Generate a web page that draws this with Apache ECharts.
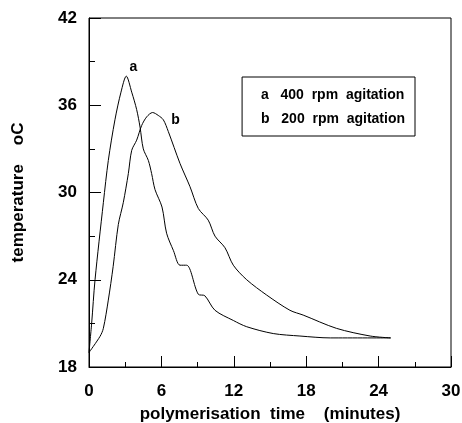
<!DOCTYPE html>
<html>
<head>
<meta charset="utf-8">
<script src="https://cdn.jsdelivr.net/npm/echarts@6/dist/echarts.min.js"></script>
<style>
  html, body { margin: 0; padding: 0; background: #fff; }
  #main { width: 462px; height: 423px; }
</style>
</head>
<body>
<div id="main"></div>
<script>
// curve a : 400 rpm
var timeA = [0, 0.22, 0.5, 1.19, 1.6, 2.15, 2.65, 3.09, 3.54, 3.95, 4.23, 4.5, 4.92, 5.19, 5.47, 6.05, 6.43, 7.0, 7.54, 8.09, 9.06, 9.6, 10.44, 11.96, 13.07, 15.27, 17.48, 20, 25]
var tempA = [19, 21.0, 24.0, 29.3, 32.2, 35.0, 36.9, 38.0, 36.9, 35.7, 34.5, 33.0, 32.2, 31.3, 30.2, 29.0, 27.2, 26.0, 25.0, 25.0, 23.0, 22.9, 21.9, 21.2, 20.77, 20.3, 20.13, 20.0, 20.0]
// curve b : 200 rpm
var timeB = [0, 0.91, 1.19, 1.6, 2.0, 2.43, 2.84, 3.26, 3.54, 3.95, 4.36, 4.78, 5.27, 5.74, 6.16, 6.57, 7.54, 8.37, 9.06, 9.88, 10.44, 11.27, 11.96, 13.07, 14.72, 16.65, 17.75, 20.5, 23.3, 25]
var tempB = [19, 20.1, 20.66, 22.6, 24.9, 27.8, 29.3, 31.3, 32.9, 33.6, 34.6, 35.2, 35.5, 35.3, 35.0, 34.2, 32.0, 30.4, 28.9, 28.1, 27.0, 26.2, 25.0, 24.0, 22.95, 21.9, 21.57, 20.66, 20.13, 20.0]

var seriesNames = ['a', 'b']
var legendText = {a: 'a   400  rpm  agitation', b: 'b   200  rpm  agitation'}

function pairs(xs, ys) {
    return xs.map(function (x, i) { return [x, ys[i]] })
}

var font = 'Liberation Sans'
var chart = echarts.init(document.getElementById('main'))

var option = {
    animation: false,
    backgroundColor: '#fff',
    grid: {
        left: 89, top: 18, right: 11, bottom: 56,
        outerBoundsMode: 'none', containLabel: false,
        show: true, borderColor: '#000', borderWidth: 1
    },
    legend: {
        data: seriesNames,
        orient: 'vertical',
        right: 47, top: 77,
        icon: 'none',
        itemWidth: 0, itemGap: 10,
        padding: [11, 10, 10, 14],
        borderColor: '#000', borderWidth: 1,
        formatter: function (name) { return legendText[name] },
        textStyle: { fontFamily: font, fontWeight: 'bold', fontSize: 14, color: '#000' }
    },
    xAxis: {
        type: 'value', min: 0, max: 30, interval: 6,
        name: 'polymerisation  time    (minutes)',
        nameLocation: 'middle', nameGap: 39,
        nameTextStyle: { fontFamily: font, fontWeight: 'bold', fontSize: 17, color: '#000' },
        axisLine: { lineStyle: { color: '#000', width: 1 } },
        axisTick: { inside: true, length: 11, lineStyle: { color: '#000' } },
        minorTick: { show: true, splitNumber: 2, length: 5, lineStyle: { color: '#000' } },
        axisLabel: { margin: 16, fontFamily: font, fontWeight: 'bold', fontSize: 17, color: '#000' },
        splitLine: { show: false }
    },
    yAxis: {
        type: 'value', min: 18, max: 42, interval: 6,
        name: 'temperature    oC',
        nameLocation: 'middle', nameGap: 62,
        nameTextStyle: { fontFamily: font, fontWeight: 'bold', fontSize: 17, color: '#000' },
        axisLine: { lineStyle: { color: '#000', width: 1 } },
        axisTick: { inside: true, length: 12, lineStyle: { color: '#000' } },
        minorTick: { show: true, splitNumber: 2, length: 6, lineStyle: { color: '#000' } },
        axisLabel: { margin: 12, fontFamily: font, fontWeight: 'bold', fontSize: 17, color: '#000' },
        splitLine: { show: false }
    },
    series: [
        {
            name: 'a', type: 'line', data: pairs(timeA, tempA),
            smooth: 0.3, showSymbol: false, color: '#000',
            lineStyle: { color: '#000', width: 1 },
            markPoint: {
                symbol: 'circle', symbolSize: 0,
                data: [{ coord: [timeA[7], tempA[7]], value: 'a' }],
                label: { show: true, formatter: 'a', offset: [7, -9], fontFamily: font, fontWeight: 'bold', fontSize: 14, color: '#000' }
            }
        },
        {
            name: 'b', type: 'line', data: pairs(timeB, tempB),
            smooth: 0.3, showSymbol: false, color: '#000',
            lineStyle: { color: '#000', width: 1 },
            markPoint: {
                symbol: 'circle', symbolSize: 0,
                data: [{ coord: [timeB[12], tempB[12]], value: 'b' }],
                label: { show: true, formatter: 'b', offset: [23, 8], fontFamily: font, fontWeight: 'bold', fontSize: 14, color: '#000' }
            }
        }
    ]
}

chart.setOption(option)
</script>
</body>
</html>
